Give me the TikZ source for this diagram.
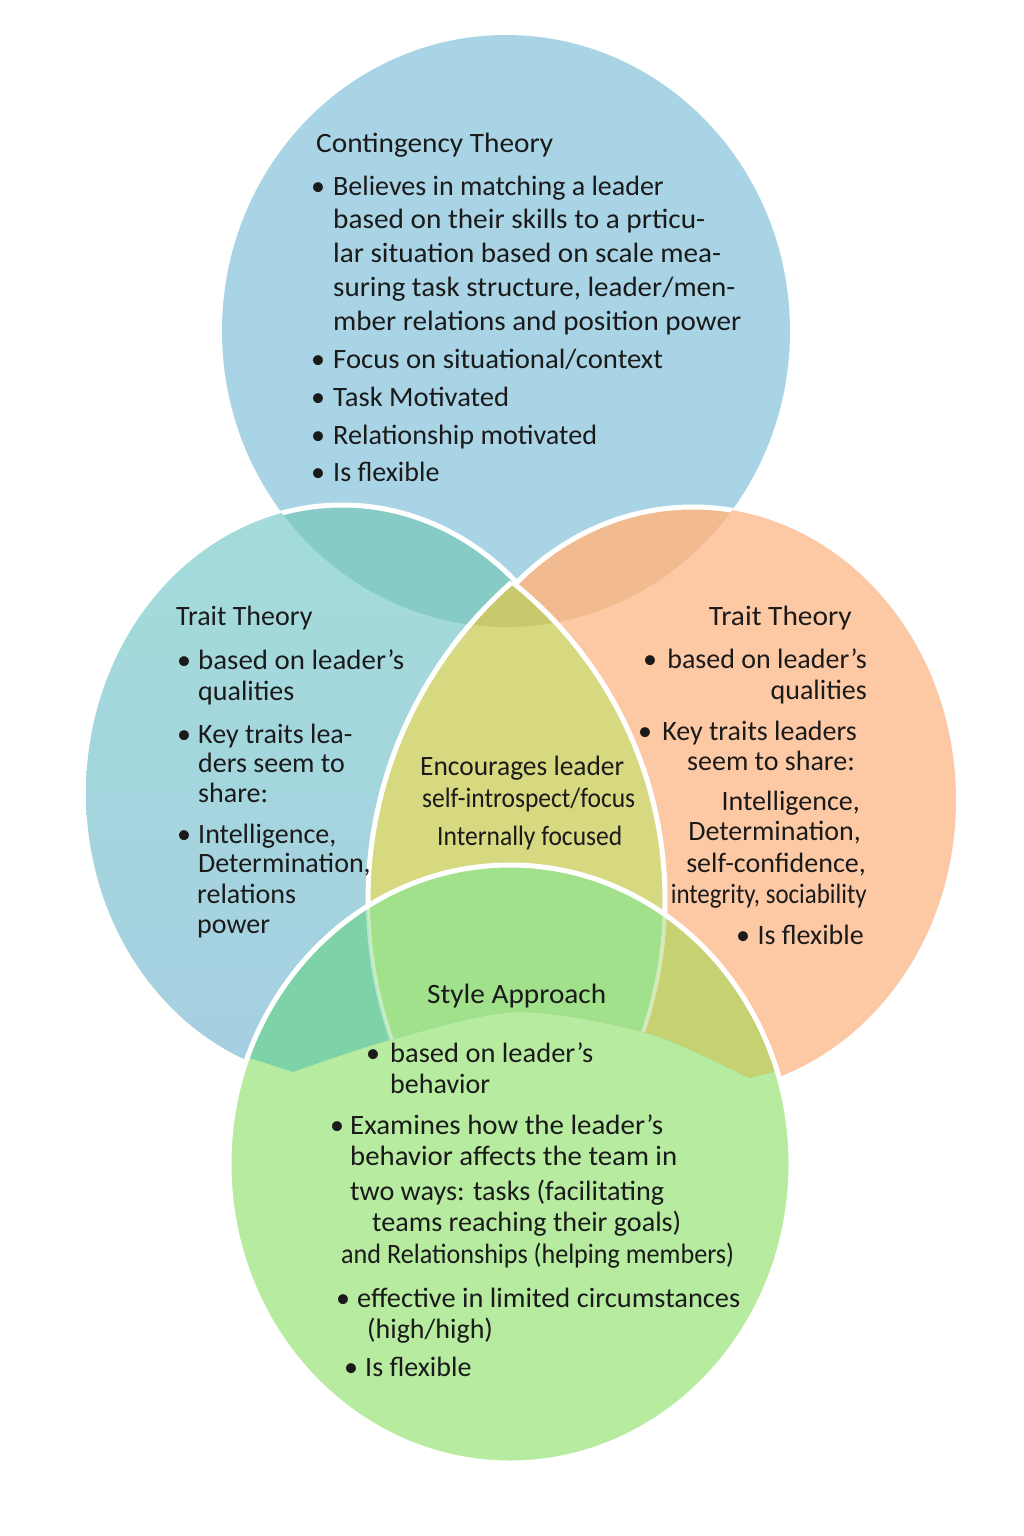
\documentclass[tikz,border=0pt]{standalone}
\usepackage{fontspec}
\setmainfont{Carlito}
\definecolor{topblue}{HTML}{A9D4E5}
\definecolor{Ltop}{HTML}{A3DCDA}
\definecolor{Lbot}{HTML}{A6CFE2}
\definecolor{LTop}{HTML}{86CBC6}
\definecolor{orng}{HTML}{FDC9A5}
\definecolor{RTop}{HTML}{F2BA8F}
\definecolor{lensc}{HTML}{D6D980}
\definecolor{lensTop}{HTML}{C8C86C}
\definecolor{Glight}{HTML}{B6EBA0}
\definecolor{Gteal}{HTML}{7DD3A7}
\definecolor{Gmid}{HTML}{A2E18C}
\definecolor{Golive}{HTML}{C6D172}
\definecolor{ink}{HTML}{1A1A1A}
\newcommand\fs{\fontsize{28}{34}\selectfont}
\newcommand\sw[2]{\resizebox{#1pt}{\height}{#2}}
\begin{document}
\begin{tikzpicture}[x=1pt,y=-1pt,
  wline/.style={draw=white, line width=5pt},
  faint/.style={draw=white, opacity=0.45, line width=4pt},
  txt/.style={inner sep=0pt, font=\fs, text=ink},
  lt/.style={txt, anchor=base west},
  rt/.style={txt, anchor=base east},
  bul/.style={txt, anchor=base}]
\useasboundingbox (0,0) rectangle (1024,1536);
\fill[white] (0,0) rectangle (1024,1536);
\def\pTop{(506,331) ellipse [x radius=284, y radius=296]}
\def\pL{(342,793) ellipse [x radius=256, y radius=288]}
\def\pR{(693,800) ellipse [x radius=263, y radius=293]}
\def\pA{(791,900) circle [radius=423]}
\def\pB{(258,900) circle [radius=407]}
\def\pG{(510,1164) ellipse [x radius=281, y radius=299]}
\def\pUp{(200,1040) -- (244,1056) -- plot[smooth] coordinates {(293,1072) (390,1040) (516,1012) (647,1033) (749,1078)} -- (781,1070) -- (830,1060) -- (830,820) -- (200,820) -- cycle}
% top circle
\fill[topblue] \pTop;
% left circle
\shade[top color=Ltop, bottom color=Lbot] \pL;
\begin{scope}\clip \pL; \fill[LTop] \pTop;\end{scope}
\begin{scope}\clip \pTop; \draw[wline] \pL;\end{scope}
% right circle
\fill[orng] \pR;
\begin{scope}\clip \pR; \fill[RTop] \pTop;\end{scope}
\begin{scope}\clip \pTop; \draw[wline] \pR;\end{scope}
% lens
\begin{scope}\clip \pA; \fill[lensc] \pB; \clip \pB; \fill[lensTop] \pTop;\end{scope}
\begin{scope}\clip \pB; \draw[wline] \pA;\end{scope}
\begin{scope}\clip \pA; \draw[wline] \pB;\end{scope}
% bottom circle
\fill[Glight] \pG;
\begin{scope}
  \clip \pG; \clip \pUp;
  \fill[Gteal] (0,0) rectangle (1024,1536);
  \begin{scope}\clip (512,0) rectangle (1024,1536); \fill[Golive] (0,0) rectangle (1024,1536);\end{scope}
  \begin{scope}\clip \pA; \clip \pB; \fill[Gmid] (0,0) rectangle (1024,1536);\end{scope}
  \draw[faint] \pA; \draw[faint] \pB;
\end{scope}
\draw[wline] \pG;
% ---- texts: top circle
\node[lt] (ct) at (316,153) {\sw{237}{Contingency Theory}};
\node[bul] (cb1) at (318,195) {•};
\node[lt] (c1) at (333,195) {Believes in matching a leader};
\node[lt] (c2) at (333,228) {\sw{372}{based on their skills to a prticu-}};
\node[lt] (c3) at (333,262) {\sw{388}{lar situation based on scale mea-}};
\node[lt] (c4) at (333,296) {\sw{402}{suring task structure, leader/men-}};
\node[lt] (c5) at (333,330) {\sw{408}{mber relations and position power}};
\node[bul] (cb2) at (318,368) {•};
\node[lt] (c6) at (333,368) {\sw{330}{Focus on situational/context}};
\node[bul] (cb3) at (318,406) {•};
\node[lt] (c7) at (333,406) {\sw{176}{Task Motivated}};
\node[bul] (cb4) at (318,444) {•};
\node[lt] (c8) at (333,444) {\sw{264}{Relationship motivated}};
\node[bul] (cb5) at (318,481) {•};
\node[lt] (c9) at (333,481) {Is flexible};
% ---- left circle
\node[lt] (lt0) at (176,625) {Trait Theory};
\node[bul] (lb1) at (184,669) {•};
\node[lt] (l1) at (198,669) {\sw{206}{based on leader’s}};
\node[lt] (l2) at (198,700) {qualities};
\node[bul] (lb2) at (184,743) {•};
\node[lt] (l3) at (198,743) {Key traits lea-};
\node[lt] (l4) at (198,772) {ders seem to};
\node[lt] (l5) at (198,802) {share:};
\node[bul] (lb3) at (184,843) {•};
\node[lt] (l6) at (198,843) {Intelligence,};
\node[lt] (l7) at (198,872) {Determination,};
\node[lt] (l8) at (197,903) {relations};
\node[lt] (l9) at (197,933) {power};
% ---- right circle
\node[rt] (rt0) at (852,625) {\sw{143}{Trait Theory}};
\node[bul] (rb1) at (650,668) {•};
\node[rt] (r1) at (867,668) {based on leader’s};
\node[rt] (r2) at (867,699) {qualities};
\node[bul] (rb2) at (645,740) {•};
\node[rt] (r3) at (857,740) {Key traits leaders};
\node[rt] (r4) at (855,770) {seem to share:};
\node[rt] (r5) at (860,810) {Intelligence,};
\node[rt] (r6) at (861,840) {Determination,};
\node[rt] (r7) at (866,872) {self-confidence,};
\node[rt] (r8) at (867,903) {\sw{196}{integrity, sociability}};
\node[bul] (rb3) at (743,944) {•};
\node[rt] (r9) at (864,944) {Is flexible};
% ---- lens
\node[lt] (m1) at (420,775) {\sw{204}{Encourages leader}};
\node[lt] (m2) at (422,807) {\sw{213}{self-introspect/focus}};
\node[lt] (m3) at (437,845) {\sw{185}{Internally focused}};
% ---- bottom circle
\node[lt] (gt) at (427,1003) {\sw{179}{Style Approach}};
\node[bul] (gb1) at (373,1062) {•};
\node[lt] (g1) at (390,1062) {\sw{203}{based on leader’s}};
\node[lt] (g2) at (390,1093) {behavior};
\node[bul] (gb2) at (337,1134) {•};
\node[lt] (g3) at (350,1134) {\sw{313}{Examines how the leader’s}};
\node[lt] (g4) at (350,1165) {\sw{327}{behavior affects the team in}};
\node[lt] (g5) at (350,1200) {\sw{314}{two ways: tasks (facilitating}};
\node[lt] (g6) at (372,1231) {\sw{309}{teams reaching their goals)}};
\node[lt] (g7) at (341,1263) {\sw{393}{and Relationships (helping members)}};
\node[bul] (gb3) at (343,1307) {•};
\node[lt] (g8) at (357,1307) {\sw{383}{effective in limited circumstances}};
\node[lt] (g9) at (367,1338) {(high/high)};
\node[bul] (gb4) at (351,1376) {•};
\node[lt] (g10) at (365,1376) {Is flexible};
\end{tikzpicture}
\end{document}
